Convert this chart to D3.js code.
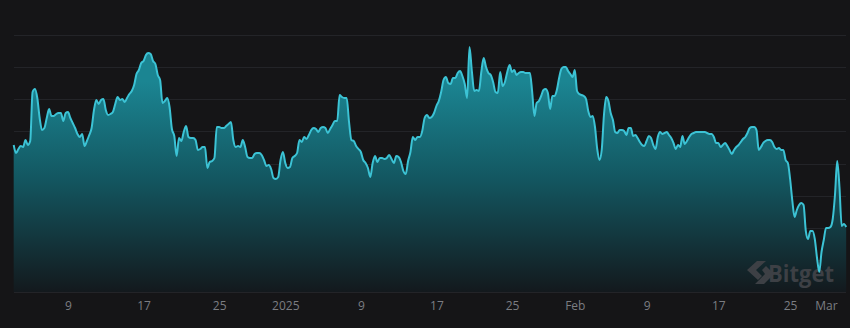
<!DOCTYPE html>
<html>
<head>
<meta charset="utf-8">
<script src="https://cdn.jsdelivr.net/npm/d3@7"></script>
<style>
  html, body { margin: 0; padding: 0; background: #151517; }
  svg { display: block; }
</style>
</head>
<body>
<svg id="chart" width="850" height="328"></svg>
<script>
// ---- data (6-hour samples, 3 Dec 2024 06:00 → 3 Mar 2025 06:00) ----
const startTime = new Date(2024, 11, 3, 6);
const stepHours = 6;
const values = [
147,139,143,146,145,152,147,151,200,203,
194,174,162,164,174,183,176,176,178,179,
179,171,179,180,174,169,164,158,155,158,
146,151,157,164,182,192,188,192,193,182,
177,178,180,188,195,192,193,190,194,198,
201,207,218,222,229,231,237,239,238,231,
228,217,212,189,191,194,185,163,156,136,
154,151,160,166,155,154,154,152,142,143,
145,145,124,130,131,134,165,165,164,164,
166,168,170,152,145,146,145,152,145,135,
134,134,138,139,139,137,132,126,127,123,
114,113,115,132,140,129,124,125,134,136,
139,152,150,155,153,157,162,164,163,160,
164,165,164,159,163,167,171,171,197,195,
194,194,170,152,151,146,143,140,132,129,
124,115,129,136,130,134,134,133,134,137,
133,129,136,135,130,121,118,131,140,155,
152,155,155,161,174,177,174,175,179,186,
191,200,212,215,209,208,214,214,219,221,
216,208,194,245,221,201,202,201,220,234,
225,219,217,210,200,199,220,206,210,220,
227,220,222,217,219,220,220,219,219,219,
200,176,189,191,196,202,203,199,183,196,
196,202,214,223,225,225,221,218,215,222,
201,198,197,196,193,181,175,176,165,143,
132,142,177,195,191,179,172,160,159,162,
162,161,157,164,164,156,157,154,150,147,
146,151,156,154,147,143,155,160,158,159,
160,157,154,149,143,147,145,156,148,151,
155,158,159,160,160,160,160,160,159,158,
158,155,149,149,145,147,149,146,142,138,
142,145,147,150,153,155,159,164,165,165,
162,142,145,149,151,152,152,150,145,143,
144,142,142,132,129,113,91,75,82,87,
89,87,61,53,61,61,53,34,20,40,
52,64,64,65,73,97,131,105,66,68,
65
];
const tickDates = [
  new Date(2024, 11, 9), new Date(2024, 11, 17), new Date(2024, 11, 25),
  new Date(2025, 0, 1), new Date(2025, 0, 9), new Date(2025, 0, 17),
  new Date(2025, 0, 25), new Date(2025, 1, 1), new Date(2025, 1, 9),
  new Date(2025, 1, 17), new Date(2025, 1, 25), new Date(2025, 2, 1)
];
const monthNames = ["Jan","Feb","Mar","Apr","May","Jun","Jul","Aug","Sep","Oct","Nov","Dec"];
const gridCount = 8;
const valueMax = 257;

const data = values.map((v, i) => ({
  date: new Date(startTime.getTime() + i * stepHours * 3600 * 1000),
  value: v
}));

// ---- layout ----
const svg = d3.select("#chart");
const W = 850, H = 328;
const plotLeft = 14, plotRight = 846, plotTop = 35, plotBottom = 292;

svg.append("rect").attr("width", W).attr("height", H).attr("fill", "#151517");

const x = d3.scaleTime()
  .domain([new Date(2024, 11, 9), new Date(2025, 0, 25), new Date(2025, 2, 1)])
  .range([68, 512, 826]);

const y = d3.scaleLinear().domain([0, valueMax]).range([plotBottom, plotTop]);

// gridlines
const gridVals = d3.range(gridCount + 1).map(k => k * valueMax / gridCount);
svg.append("g").selectAll("line").data(gridVals).join("line")
  .attr("x1", plotLeft).attr("x2", plotRight)
  .attr("y1", d => Math.round(y(d)) + 0.5).attr("y2", d => Math.round(y(d)) + 0.5)
  .attr("stroke", "#232428").attr("stroke-width", 1);

// gradient
const defs = svg.append("defs");
const grad = defs.append("linearGradient").attr("id", "fillGrad")
  .attr("gradientUnits", "userSpaceOnUse")
  .attr("x1", 0).attr("x2", 0).attr("y1", y(valueMax * 0.82)).attr("y2", y(0));
grad.append("stop").attr("offset", "0%").attr("stop-color", "#1b8592");
grad.append("stop").attr("offset", "45%").attr("stop-color", "#135862");
grad.append("stop").attr("offset", "100%").attr("stop-color", "#13191d");

const area = d3.area()
  .x(d => x(d.date)).y0(y(0)).y1(d => y(d.value))
  .curve(d3.curveMonotoneX);
const line = d3.line()
  .x(d => x(d.date)).y(d => y(d.value))
  .curve(d3.curveMonotoneX);

svg.append("path").datum(data).attr("d", area).attr("fill", "url(#fillGrad)");

// watermark
const wm = svg.append("g").attr("fill", "#3d4045");
wm.append("path")
  .attr("d", "M757,261 L766,261 L756,270 L762,276 L758,280 L747,270 Z");
wm.append("path")
  .attr("d", "M762,270 L766,266 L774,274 L764,284 L755,284 L765,274 Z");
wm.append("text").attr("x", 768).attr("y", 282)
  .attr("font-family", "'Open Sans', 'Noto Sans', sans-serif")
  .attr("font-weight", 700).attr("font-size", 23)
  .attr("textLength", 66).attr("lengthAdjust", "spacingAndGlyphs")
  .text("Bitget");

svg.append("path").datum(data).attr("d", line)
  .attr("fill", "none").attr("stroke", "#3cc3d5").attr("stroke-width", 2)
  .attr("stroke-linejoin", "round");

// x axis
const axis = d3.axisBottom(x)
  .tickValues(tickDates)
  .tickSize(0).tickPadding(9)
  .tickFormat(d => {
    if (d.getMonth() === 0 && d.getDate() === 1) return String(d.getFullYear());
    if (d.getDate() === 1) return monthNames[d.getMonth()];
    return String(d.getDate());
  });
const ax = svg.append("g").attr("transform", `translate(0,${plotBottom})`).call(axis);
ax.select(".domain").remove();
ax.selectAll("text")
  .attr("fill", "#7b7d82")
  .attr("font-family", "'Open Sans', 'Noto Sans', sans-serif")
  .attr("font-size", 12);
</script>
</body>
</html>
